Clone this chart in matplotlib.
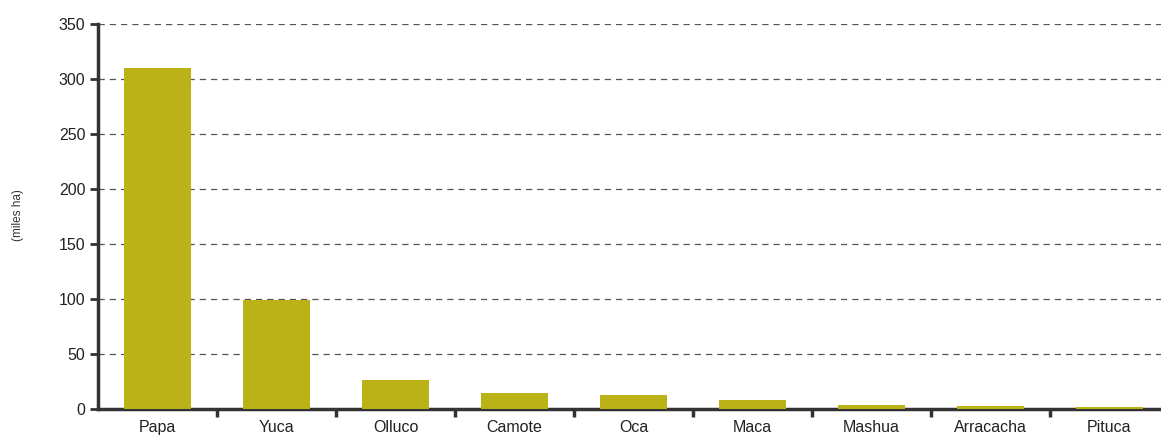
import numpy as np
import matplotlib.pyplot as plt
from matplotlib.ticker import FixedLocator

cultivos = ["Papa", "Yuca", "Olluco", "Camote", "Oca", "Maca", "Mashua", "Arracacha", "Pituca"]
superficie = [310, 99, 26.5, 14.8, 12.7, 8.2, 3.6, 2.7, 1.8]
y_ticks = [0, 50, 100, 150, 200, 250, 300, 350]

plt.rcParams['font.family'] = ['Liberation Sans Narrow', 'Liberation Sans', 'DejaVu Sans']

fig = plt.figure(figsize=(11.61, 4.37), dpi=100)
ax = fig.add_axes([98 / 1161, 28 / 437, 1071 / 1161, 385 / 437])

x = np.arange(len(cultivos))
ax.bar(x, superficie, width=0.56, color='#bab216', zorder=3)

ax.set_xlim(-0.5, len(cultivos) - 0.5)
ax.set_ylim(0, 350)
ax.set_yticks(y_ticks)
ax.set_xticks(x)
ax.set_xticklabels(cultivos)
ax.xaxis.set_minor_locator(FixedLocator(x[:-1] + 0.5))

ax.tick_params(axis='x', which='major', length=0, pad=8, labelsize=11.5, colors='#222222')
ax.tick_params(axis='x', which='minor', length=6, width=2.5, color='#333333')
ax.tick_params(axis='y', length=6, width=2, color='#333333', labelsize=11.5, labelcolor='#222222', pad=3)

ax.grid(axis='y', linestyle=(0, (5, 4)), color='#555555', linewidth=0.9, zorder=0)

for side in ['top', 'right']:
    ax.spines[side].set_visible(False)
ax.spines['left'].set_linewidth(2.5)
ax.spines['bottom'].set_linewidth(2.5)
ax.spines['left'].set_color('#333333')
ax.spines['bottom'].set_color('#333333')

fig.text(18 / 1161, 1 - 215 / 437, "(miles ha)", rotation=90, fontsize=8.5,
         color='#333333', ha='center', va='center')

fig.savefig("out.png", dpi=100)
